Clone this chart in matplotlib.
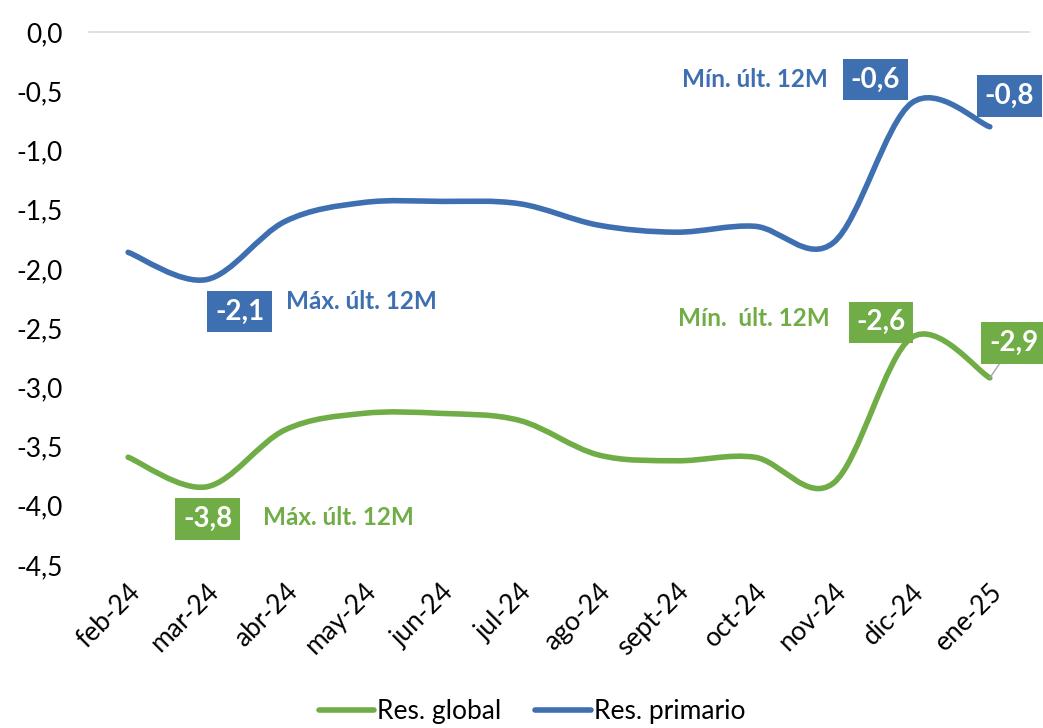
import matplotlib
matplotlib.use("Agg")
import matplotlib.pyplot as plt
from matplotlib.path import Path
from matplotlib.patches import PathPatch
from matplotlib.lines import Line2D
import numpy as np

plt.rcParams['font.family'] = ['Lato', 'DejaVu Sans']

months = ["feb-24", "mar-24", "abr-24", "may-24", "jun-24", "jul-24",
          "ago-24", "sept-24", "oct-24", "nov-24", "dic-24", "ene-25"]
res_global = [-3.59, -3.84, -3.36, -3.22, -3.22, -3.28,
              -3.57, -3.62, -3.59, -3.81, -2.58, -2.92]
res_primario = [-1.86, -2.09, -1.60, -1.44, -1.43, -1.45,
                -1.63, -1.69, -1.64, -1.78, -0.60, -0.80]

green = "#70AD47"
blue = "#3D6FB1"


def smooth_path(y):
  # excel style smoothed line (bezier through every point)
  x = np.arange(len(y), dtype=float)
  y = np.asarray(y, dtype=float)
  pts = np.column_stack([x, y])
  n = len(pts)
  verts = [pts[0]]
  codes = [Path.MOVETO]
  for i in range(n - 1):
    p0 = pts[max(i - 1, 0)]
    p1 = pts[i]
    p2 = pts[i + 1]
    p3 = pts[min(i + 2, n - 1)]
    c1 = p1 + (p2 - p0) / 6.0
    c2 = p2 - (p3 - p1) / 6.0
    verts += [c1, c2, p2]
    codes += [Path.CURVE4] * 3
  return Path(verts, codes)


fig = plt.figure(figsize=(10.43, 7.28), dpi=100)
ax = fig.add_axes([0.0853, 0.2239, 0.9013, 0.7321])

for vals, col in [(res_primario, blue), (res_global, green)]:
  patch = PathPatch(smooth_path(vals), facecolor='none', edgecolor=col,
                    lw=4, capstyle='round', joinstyle='round')
  ax.add_patch(patch)

ax.set_xlim(-0.5, len(months) - 0.5)
ax.set_ylim(-4.5, 0)
ax.set_yticks(np.arange(-4.5, 0.01, 0.5))
ax.set_yticklabels([("%.1f" % v).replace(".", ",").replace("-0,0", "0,0")
                    for v in np.arange(-4.5, 0.01, 0.5)])
ax.set_xticks(range(len(months)))
ax.set_xticklabels(months, rotation=45, ha='right', rotation_mode='anchor')
ax.tick_params(axis='both', length=0, labelsize=19, colors='black')
ax.tick_params(axis='y', pad=19)
ax.tick_params(axis='x', pad=10)
for s in ['left', 'right', 'bottom']:
  ax.spines[s].set_visible(False)
ax.spines['top'].set_color('#D9D9D9')
ax.spines['top'].set_linewidth(1.2)


def box_label(i, vals, txt, dx, dy, col):
  ax.annotate(txt, (i, vals[i]), xytext=(dx, dy), textcoords='offset points',
              ha='center', va='center', color='white', fontsize=20,
              fontweight='bold',
              bbox=dict(boxstyle='square,pad=0.28', fc=col, ec='none'))


def note(i, vals, txt, dx, dy, col, ha):
  ax.annotate(txt, (i, vals[i]), xytext=(dx, dy), textcoords='offset points',
              ha=ha, va='center', color=col, fontsize=17.5, fontweight='bold')


box_label(10, res_primario, "-0,6", -26, 17, blue)
box_label(11, res_primario, "-0,8", 14, 22, blue)
box_label(1, res_primario, "-2,1", 24, -23, blue)
box_label(10, res_global, "-2,6", -22, 11, green)
box_label(1, res_global, "-3,8", 1, -23, green)

# last green label with leader line
ax.annotate("-2,9", (11, res_global[11]), xytext=(17, 25),
            textcoords='offset points', ha='center', va='center',
            color='white', fontsize=20, fontweight='bold',
            bbox=dict(boxstyle='square,pad=0.28', fc=green, ec='none'),
            arrowprops=dict(arrowstyle='-', color='#A6A6A6', lw=1,
                            shrinkA=0, shrinkB=0))

note(10, res_primario, "Mín. últ. 12M", -60, 17, blue, 'right')
note(1, res_primario, "Máx. últ. 12M", 57, -16, blue, 'left')
note(10, res_global, "Mín.  últ. 12M", -59, 14, green, 'right')
note(1, res_global, "Máx. últ. 12M", 41, -22, green, 'left')

handles = [Line2D([], [], color=green, lw=4, solid_capstyle='round'),
           Line2D([], [], color=blue, lw=4, solid_capstyle='round')]
fig.legend(handles, ["Res. global", "Res. primario"], loc='center',
           bbox_to_anchor=(0.51, 0.022), ncol=2, frameon=False, fontsize=19,
           handlelength=2.1, handletextpad=0.1, columnspacing=1.3)

fig.savefig("out.png", dpi=100)
